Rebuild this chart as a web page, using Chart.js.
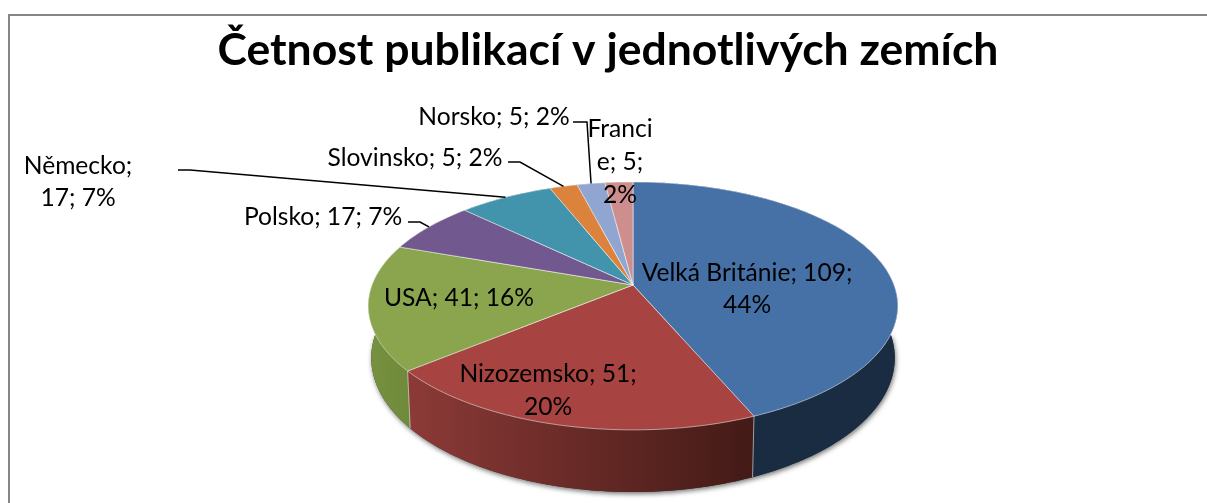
<!DOCTYPE html>
<html><head><meta charset="utf-8">
<style>html,body{margin:0;padding:0;background:#fff}#w{width:1207px;height:503px;position:relative;overflow:hidden}canvas{display:block}</style>
<script src="https://cdn.jsdelivr.net/npm/chart.js@4/dist/chart.umd.js"></script>
</head><body><div id="w"><canvas id="c" width="1207" height="503"></canvas></div>
<script>
const titleText = 'Četnost publikací v jednotlivých zemích';
const categories = ['Velká Británie','Nizozemsko','USA','Polsko','Německo','Slovinsko','Norsko','Francie'];
const values = [109,51,41,17,17,5,5,5];
const topColors = ['#4671a7','#a74340','#8aa54e','#71588f','#4194ab','#db833c','#90a5cf','#ce8e8d'];
const wallColors = [['#1a2c42','#1a2c42'],['#8c3a37','#431a16'],['#76913f','#6f8a3a'],['#443555','#443555'],['#275967','#275967'],['#854f24','#854f24'],['#56637c','#56637c'],['#7c5555','#7c5555']];

// projection of the pie disc (perspective view)
const view3d = {cx:633, cy:285, a:261, b:120.4, k:0.169, la:258, lb:130.2, ly:335.3};
// label placement: centre x, line y's, and character offsets where the text wraps
const labelLayout = [
 {x:747,ys:[273,305],br:[21]},
 {x:548,ys:[374,407],br:[16]},
 {x:459,ys:[298],br:[]},
 {x:323,ys:[217],br:[]},
 {x:78,ys:[166,198],br:[9]},
 {x:415,ys:[158],br:[]},
 {x:494,ys:[117],br:[]},
 {x:620,ys:[129,162,195],br:[6,12]}
];
const leaders = {3:[[408,222],[420,222]],4:[[178,170],[190,170]],5:[[508,162],[520,162]],6:[[573,122],[587,122]]};

function upper(t){const u=Math.cos(t),v=Math.sin(t),w=1-view3d.k*v;return [view3d.cx+view3d.a*u/w,view3d.cy+view3d.b*v/w];}
function lower(t){const u=Math.cos(t),v=Math.sin(t),w=1-view3d.k*v;return [view3d.cx+view3d.la*u/w,view3d.ly+view3d.lb*v/w];}
function samples(s,e){const n=Math.max(2,Math.ceil((e-s)/0.02)),r=[];for(let i=0;i<=n;i++)r.push(s+(e-s)*i/n);return r;}

const pie3d = {
 id:'pie3d',
 beforeDraw(chart){
  const c=chart.ctx;c.save();c.strokeStyle='#868686';c.lineWidth=2;
  c.beginPath();c.moveTo(9,503);c.lineTo(9,15);c.lineTo(1207,15);c.stroke();c.restore();
 },
 beforeDatasetDraw(chart){
  const c=chart.ctx,arcs=chart.getDatasetMeta(0).data;
  c.save();
  // soft shadow beneath
  c.save();c.shadowColor='rgba(0,0,0,.55)';c.shadowBlur=5;c.shadowOffsetY=2;c.shadowOffsetX=1;c.fillStyle='#333';
  c.beginPath();samples(0,Math.PI).forEach((t,i)=>{const p=lower(t);i?c.lineTo(p[0],p[1]):c.moveTo(p[0],p[1]);});c.closePath();c.fill();c.restore();
  // walls
  arcs.forEach((arc,i)=>{
   const ts=samples(arc.startAngle,arc.endAngle);
   const xs=ts.map(t=>upper(t)[0]);
   const g=c.createLinearGradient(Math.min(...xs),0,Math.max(...xs),0);
   g.addColorStop(0,wallColors[i][0]);g.addColorStop(1,wallColors[i][1]);
   c.fillStyle=g;c.beginPath();
   ts.forEach((t,j)=>{const p=upper(t);j?c.lineTo(p[0],p[1]):c.moveTo(p[0],p[1]);});
   ts.slice().reverse().forEach(t=>{const p=lower(t);c.lineTo(p[0],p[1]);});
   c.closePath();c.fill();
  });
  // wall seams
  c.strokeStyle='rgba(255,255,255,.55)';c.lineWidth=1;
  arcs.forEach(arc=>{const t=arc.startAngle;if(Math.sin(t)>0){const p=upper(t),q=lower(t);c.beginPath();c.moveTo(p[0],p[1]);c.lineTo(q[0],q[1]);c.stroke();}});
  // top faces
  arcs.forEach((arc,i)=>{
   c.beginPath();c.moveTo(view3d.cx,view3d.cy);
   samples(arc.startAngle,arc.endAngle).forEach(t=>{const p=upper(t);c.lineTo(p[0],p[1]);});
   c.closePath();c.fillStyle=topColors[i];c.fill();
   c.strokeStyle='rgba(255,255,255,.5)';c.lineWidth=1;c.stroke();
  });
  // leaders
  c.strokeStyle='#000';c.lineWidth=1.5;
  Object.keys(leaders).forEach(i=>{
   const arc=arcs[i],end=upper((arc.startAngle+arc.endAngle)/2),pts=leaders[i];
   c.beginPath();c.moveTo(pts[0][0],pts[0][1]);c.lineTo(pts[1][0],pts[1][1]);c.lineTo(end[0],end[1]);c.stroke();
  });
  // labels
  const total=values.reduce((a,b)=>a+b,0);
  c.fillStyle='#000';c.font='24.6px Lato';c.textAlign='center';c.textBaseline='middle';
  categories.forEach((cat,i)=>{
   const txt=cat+'; '+values[i]+'; '+Math.round(values[i]/total*100)+'%';
   const l=labelLayout[i],cuts=[0,...l.br,txt.length];
   l.ys.forEach((y,j)=>c.fillText(txt.slice(cuts[j],cuts[j+1]).trim(),l.x,y));
  });
  c.restore();
  return false;
 }
};

new Chart(document.getElementById('c'),{
 type:'pie',
 data:{labels:categories,datasets:[{data:values,backgroundColor:topColors}]},
 options:{
  responsive:false,animation:false,
  layout:{padding:{left:9,top:14}},
  plugins:{
   legend:{display:false},tooltip:{enabled:false},
   title:{display:true,text:titleText,color:'#000',font:{family:'Lato',size:44.5,weight:'bold'},padding:{top:10,bottom:10}}
  }
 },
 plugins:[pie3d]
});
</script>
</body></html>
